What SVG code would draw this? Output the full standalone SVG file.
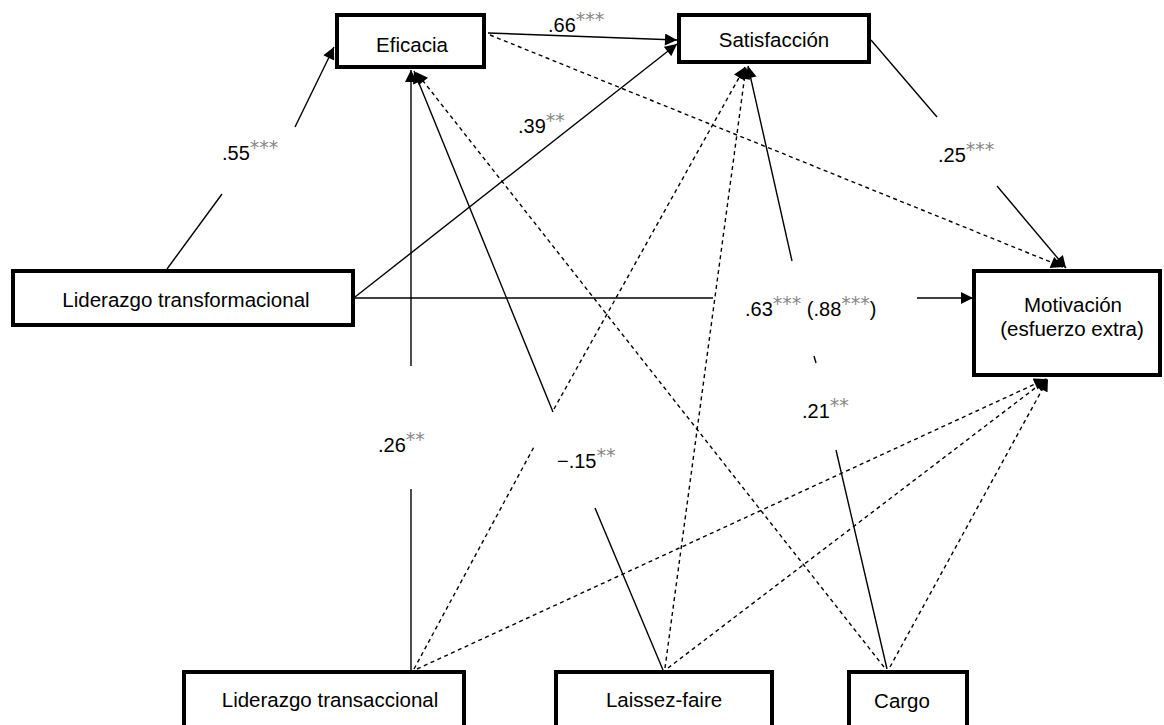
<svg xmlns="http://www.w3.org/2000/svg" width="1164" height="725" viewBox="0 0 1164 725">
<style>
.box{fill:#fff;stroke:#000;stroke-width:4}
.nt{font-family:"Liberation Sans",Arial,sans-serif;font-size:20.5px;fill:#000;text-anchor:middle}
.lb{font-family:"Liberation Sans",Arial,sans-serif;font-size:20px;fill:#000}
.st{font-family:"DejaVu Sans",sans-serif;font-size:19px;fill:#888}
.s{stroke:#000;stroke-width:1.4;fill:none}
.d{stroke:#000;stroke-width:1.4;fill:none;stroke-dasharray:4 3.5}
</style>
<defs>
<marker id="ah" viewBox="0 0 10 10" refX="10" refY="5" markerWidth="13" markerHeight="12" markerUnits="userSpaceOnUse" orient="auto">
<path d="M0,0 L10,5 L0,10 z" fill="#000"/>
</marker>
</defs>
<rect width="1164" height="725" fill="#fff"/>
<g id="connectors">
<line class="s" x1="167" y1="269" x2="222" y2="194"/>
<line class="s" x1="295" y1="127" x2="334" y2="47" marker-end="url(#ah)"/>
<line class="s" x1="488" y1="33" x2="677" y2="40" marker-end="url(#ah)"/>
<line class="d" x1="490" y1="35" x2="1063" y2="267" marker-end="url(#ah)"/>
<line class="s" x1="871" y1="40" x2="937" y2="117"/>
<line class="s" x1="997" y1="186" x2="1066" y2="268" marker-end="url(#ah)"/>
<line class="s" x1="355" y1="297" x2="677" y2="44" marker-end="url(#ah)"/>
<line class="s" x1="355" y1="298" x2="713" y2="298"/>
<line class="s" x1="917" y1="298" x2="973" y2="298" marker-end="url(#ah)"/>
<line class="s" x1="411" y1="670" x2="411" y2="489"/>
<line class="s" x1="411" y1="366" x2="411" y2="70" marker-end="url(#ah)"/>
<line class="s" x1="663" y1="670" x2="595" y2="508"/>
<line class="s" x1="553" y1="412" x2="414" y2="71" marker-end="url(#ah)"/>
<line class="s" x1="887" y1="669" x2="836" y2="450"/>
<line class="s" x1="816" y1="363" x2="814" y2="356"/>
<line class="s" x1="792" y1="261" x2="748" y2="66" marker-end="url(#ah)"/>
<line class="d" x1="414" y1="669" x2="535" y2="445"/>
<line class="d" x1="554" y1="409" x2="745" y2="67" marker-end="url(#ah)"/>
<line class="d" x1="417" y1="669" x2="1046" y2="379" marker-end="url(#ah)"/>
<line class="d" x1="665" y1="668" x2="746" y2="67" marker-end="url(#ah)"/>
<line class="d" x1="668" y1="668" x2="1047" y2="379" marker-end="url(#ah)"/>
<line class="d" x1="884" y1="667" x2="416" y2="72" marker-end="url(#ah)"/>
<line class="d" x1="890" y1="667" x2="1048" y2="379" marker-end="url(#ah)"/>
</g>
<g id="labels">
<text class="lb" x="222" y="160">.55<tspan class="st" dy="-6">***</tspan></text>
<text class="lb" x="548" y="32">.66<tspan class="st" dy="-6">***</tspan></text>
<text class="lb" x="518" y="133">.39<tspan class="st" dy="-6">**</tspan></text>
<text class="lb" x="938" y="162">.25<tspan class="st" dy="-6">***</tspan></text>
<text class="lb" x="745" y="316">.63<tspan class="st" dy="-6">***</tspan><tspan dy="6"> (.88</tspan><tspan class="st" dy="-6">***</tspan><tspan dy="6">)</tspan></text>
<text class="lb" x="802" y="418">.21<tspan class="st" dy="-6">**</tspan></text>
<text class="lb" x="378" y="452">.26<tspan class="st" dy="-6">**</tspan></text>
<text class="lb" x="557" y="468">−.15<tspan class="st" dy="-6">**</tspan></text>
</g>
<g id="eficacia">
<rect class="box" x="337" y="15" width="147" height="52"/>
<text class="nt" x="412" y="52">Eficacia</text>
</g>
<g id="satisfaccion">
<rect class="box" x="679" y="15" width="190" height="47"/>
<text class="nt" x="774" y="47">Satisfacción</text>
</g>
<g id="transformacional">
<rect class="box" x="13" y="271" width="340" height="54"/>
<text class="nt" x="186" y="307">Liderazgo transformacional</text>
</g>
<g id="motivacion">
<rect class="box" x="974" y="271" width="186" height="104"/>
<text class="nt" x="1073" y="312">Motivación</text>
<text class="nt" x="1072" y="336">(esfuerzo extra)</text>
</g>
<g id="transaccional">
<rect class="box" x="184" y="672" width="280" height="70"/>
<text class="nt" x="330" y="707">Liderazgo transaccional</text>
</g>
<g id="laissez">
<rect class="box" x="556" y="672" width="216" height="70"/>
<text class="nt" x="664" y="707">Laissez-faire</text>
</g>
<g id="cargo">
<rect class="box" x="849" y="672" width="118" height="70"/>
<text class="nt" x="902" y="708">Cargo</text>
</g>
</svg>
